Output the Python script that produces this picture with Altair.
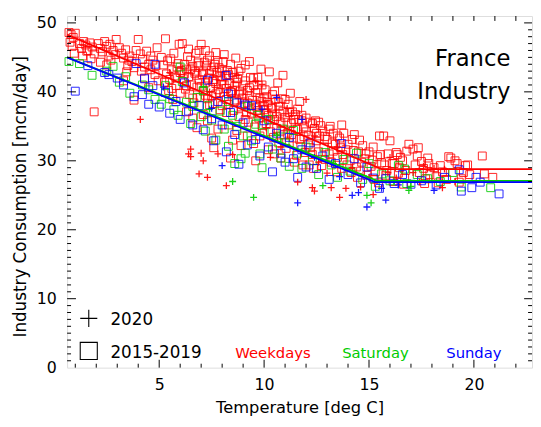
import altair as alt
import pandas as pd

X_DOMAIN = [0.61, 22.77]
Y_DOMAIN = [0, 51]
W, H = 472, 357

# Weekdays, 2015-2019 (squares)
wd_sq = [
    (0.7, 48.6), (0.8, 48.3), (0.9, 47.9), (1.0, 48.5), (0.75, 47.2), (0.85, 46.6), (0.95, 45.6),
    (1.2, 47.0), (1.3, 46.3), (1.4, 47.3), (1.5, 46.8), (1.6, 46.0), (1.7, 47.1), (1.8, 46.5),
    (1.9, 45.5), (1.35, 45.2), (1.55, 45.9), (1.9, 37.1), (1.75, 44.8),
    (2.1, 47.0), (2.2, 46.3), (2.3, 45.8), (2.4, 47.3), (2.5, 46.6), (2.6, 45.2), (2.7, 44.6),
    (2.8, 46.0), (2.9, 45.4), (2.2, 44.3), (2.5, 43.9), (2.95, 47.6), (2.65, 46.9),
    (3.1, 46.4), (3.2, 45.6), (3.3, 44.9), (3.4, 46.1), (3.5, 43.8), (3.6, 45.2), (3.7, 44.4),
    (3.8, 43.5), (3.9, 46.0), (3.3, 41.6), (3.8, 38.8), (4.0, 47.6), (3.55, 44.6), (3.45, 42.9),
    (4.1, 45.5), (4.2, 44.7), (4.3, 43.6), (4.4, 45.9), (4.5, 44.0), (4.6, 43.2), (4.7, 44.6),
    (4.8, 42.5), (4.9, 46.4), (4.3, 42.0), (4.6, 45.2), (4.85, 43.8), (4.15, 43.0), (4.95, 41.6),
    (4.5, 40.6),
    (5.1, 45.0), (5.2, 43.9), (5.3, 47.7), (5.35, 42.6), (5.4, 44.5), (5.5, 41.8), (5.6, 43.2),
    (5.7, 45.6), (5.75, 42.3), (5.8, 40.9), (5.9, 44.1), (6.0, 42.8), (5.45, 40.2), (5.65, 38.9),
    (5.95, 46.9), (5.25, 41.4), (5.85, 43.6), (5.55, 44.8),
    (6.1, 47.0), (6.15, 41.9), (6.2, 44.0), (6.25, 40.4), (6.3, 43.3), (6.35, 45.1), (6.4, 42.2),
    (6.45, 39.6), (6.5, 44.6), (6.55, 41.0), (6.6, 43.7), (6.65, 38.4), (6.7, 42.7), (6.75, 45.6),
    (6.8, 40.7), (6.85, 44.2), (6.9, 41.7), (6.95, 39.2), (6.3, 37.1), (6.6, 36.2), (6.8, 34.8),
    (6.4, 46.2), (6.7, 43.0), (6.05, 43.1), (6.9, 46.0),
    (7.0, 46.9), (7.05, 42.5), (7.1, 40.1), (7.15, 44.3), (7.2, 41.3), (7.25, 43.8), (7.3, 39.0),
    (7.35, 42.0), (7.4, 45.2), (7.45, 40.6), (7.5, 43.1), (7.55, 38.3), (7.6, 41.8), (7.65, 44.0),
    (7.7, 39.7), (7.75, 42.8), (7.8, 40.3), (7.85, 43.5), (7.9, 37.4), (7.95, 41.1), (7.3, 35.8),
    (7.6, 31.9), (7.5, 33.3), (7.8, 34.6), (7.1, 36.7), (7.7, 45.7), (7.2, 46.0), (7.4, 38.1),
    (7.9, 42.2), (7.55, 41.5),
    (8.0, 41.6), (8.05, 44.4), (8.1, 39.3), (8.15, 42.3), (8.2, 40.5), (8.25, 43.1), (8.3, 38.2),
    (8.35, 41.2), (8.4, 30.4), (8.45, 39.9), (8.5, 42.8), (8.55, 37.3), (8.6, 40.8), (8.65, 44.9),
    (8.7, 38.8), (8.75, 41.9), (8.8, 36.4), (8.85, 40.1), (8.9, 43.4), (8.95, 39.1), (8.1, 45.4),
    (8.3, 35.2), (8.5, 33.0), (8.7, 34.4), (8.9, 32.2), (8.2, 37.0), (8.6, 42.1), (8.4, 40.0),
    (8.8, 39.6), (8.0, 38.0),
    (9.0, 41.0), (9.05, 38.3), (9.1, 43.9), (9.15, 37.0), (9.2, 40.2), (9.25, 35.6), (9.3, 39.4),
    (9.35, 42.1), (9.4, 36.9), (9.45, 38.8), (9.5, 40.9), (9.55, 34.9), (9.6, 30.0), (9.65, 37.8),
    (9.7, 42.1), (9.75, 36.2), (9.8, 39.1), (9.85, 43.3), (9.9, 35.1), (9.95, 38.0), (9.2, 33.6),
    (9.5, 32.5), (9.8, 33.6), (9.3, 44.4), (9.6, 39.9), (9.9, 41.0), (9.1, 36.0), (9.7, 37.3),
    (10.0, 37.4), (10.05, 40.3), (10.1, 35.3), (10.15, 38.5), (10.2, 36.6), (10.25, 42.9),
    (10.3, 34.2), (10.35, 37.6), (10.4, 39.6), (10.45, 33.4), (10.5, 36.0), (10.55, 38.9),
    (10.6, 34.7), (10.65, 41.3), (10.7, 32.6), (10.75, 36.9), (10.8, 35.5), (10.85, 39.0),
    (10.9, 42.4), (10.95, 33.8), (10.2, 31.6), (10.5, 31.0), (10.8, 30.4), (10.4, 36.8),
    (10.7, 37.9), (10.1, 39.3),
    (11.0, 36.3), (11.1, 34.0), (11.15, 38.2), (11.2, 32.6), (11.3, 35.4), (11.35, 37.1),
    (11.4, 33.3), (11.5, 36.7), (11.55, 30.8), (11.6, 34.6), (11.7, 38.6), (11.75, 32.1),
    (11.8, 35.8), (11.9, 33.5), (11.95, 31.2), (11.25, 39.8), (11.45, 29.8), (11.65, 36.0),
    (11.85, 29.4), (11.05, 31.8),
    (12.0, 34.2), (12.1, 32.3), (12.2, 35.6), (12.3, 30.9), (12.4, 34.7), (12.5, 32.9),
    (12.6, 31.3), (12.7, 35.1), (12.8, 34.3), (12.9, 30.2), (12.15, 29.4), (12.45, 35.8),
    (12.65, 33.6), (12.85, 32.0), (12.35, 28.9), (12.75, 29.3),
    (13.0, 33.1), (13.1, 31.0), (13.2, 29.8), (13.3, 34.0), (13.4, 32.4), (13.5, 30.5),
    (13.6, 33.3), (13.7, 28.9), (13.8, 34.0), (13.9, 31.6), (13.15, 35.0), (13.45, 28.4),
    (13.75, 30.9), (13.25, 32.6), (13.65, 31.9), (13.95, 29.4),
    (14.0, 32.4), (14.1, 30.0), (14.2, 33.1), (14.3, 33.8), (14.4, 29.1), (14.5, 31.3),
    (14.6, 28.5), (14.7, 32.2), (14.8, 30.3), (14.9, 27.9), (14.25, 31.5), (14.55, 33.0),
    (14.85, 31.0), (14.15, 28.3), (14.65, 29.8), (14.45, 27.6),
    (15.0, 31.3), (15.1, 29.2), (15.2, 32.0), (15.3, 28.4), (15.4, 30.6), (15.5, 33.6),
    (15.6, 29.7), (15.7, 33.6), (15.8, 27.9), (15.9, 31.0), (15.25, 27.3), (15.55, 30.9),
    (15.85, 28.6), (15.15, 30.1), (15.45, 26.8), (15.75, 29.4),
    (16.0, 32.9), (16.1, 29.6), (16.2, 29.6), (16.3, 31.2), (16.4, 28.2), (16.5, 30.5),
    (16.6, 30.0), (16.7, 27.5), (16.8, 31.4), (16.9, 32.4), (16.15, 27.0), (16.45, 29.0),
    (16.75, 28.6), (16.35, 30.9), (16.65, 26.6),
    (17.1, 31.7), (17.2, 29.4), (17.3, 30.7), (17.4, 28.3), (17.5, 29.9), (17.6, 28.9),
    (17.7, 27.4), (17.8, 30.4), (17.9, 28.0), (17.35, 31.9), (17.65, 26.7), (17.85, 29.6),
    (18.1, 29.0), (18.2, 27.7), (18.4, 29.3), (18.5, 28.4), (18.6, 28.3), (18.8, 30.6),
    (18.9, 30.4), (18.3, 26.8), (18.7, 27.3),
    (19.1, 30.0), (19.2, 29.6), (19.3, 26.9), (19.5, 28.3), (19.6, 29.3), (19.7, 29.4),
    (19.8, 28.0), (19.4, 27.4),
    (20.4, 30.7), (20.5, 28.1), (20.9, 27.6),
    (5.6, 40.5), (5.8, 42.0), (6.0, 39.8), (6.2, 42.6), (6.3, 40.9), (6.5, 43.2), (6.6, 39.1),
    (6.8, 42.4), (6.9, 43.8), (7.0, 40.8), (7.1, 42.9), (7.2, 39.5), (7.3, 44.6), (7.4, 42.6),
    (7.5, 39.4), (7.6, 43.6), (7.7, 41.2), (7.8, 44.3), (7.9, 39.9), (8.0, 43.0), (8.1, 41.0),
    (8.2, 38.9), (8.3, 42.5), (8.4, 44.0), (8.5, 40.2), (8.6, 38.6), (8.7, 41.4), (8.8, 43.0),
    (8.9, 37.8), (9.0, 39.7), (9.1, 41.6), (9.2, 38.4), (9.3, 40.6), (9.4, 37.5), (9.5, 42.0),
    (9.6, 38.2), (9.7, 40.3), (9.8, 36.8), (9.9, 38.6), (10.0, 39.0), (10.1, 36.9), (10.2, 38.1),
    (10.3, 35.9), (10.4, 37.8), (10.5, 40.1), (10.6, 36.4), (10.7, 38.5), (10.8, 34.3),
    (10.9, 37.2), (11.0, 38.9), (11.1, 35.6), (11.2, 37.0), (11.3, 33.8), (11.4, 36.0),
    (11.5, 34.6), (11.6, 37.5), (11.7, 33.1), (11.8, 36.6), (11.9, 34.9), (12.0, 36.2),
    (12.1, 33.7), (12.2, 31.9), (12.3, 35.4), (12.5, 34.0), (12.6, 35.6), (12.9, 33.5),
    (13.1, 34.6), (13.3, 31.4), (13.5, 33.6), (13.7, 35.2),
]

# Saturday, 2015-2019 (squares)
sa_sq = [
    (0.7, 44.4), (1.2, 44.1), (1.8, 42.4), (2.5, 43.0), (2.8, 43.7), (3.1, 41.4), (3.4, 42.2),
    (3.6, 39.8), (4.2, 41.0), (4.5, 40.3), (4.8, 38.9), (5.1, 38.2), (5.3, 40.9), (5.5, 39.0),
    (5.7, 37.4), (5.9, 36.6), (6.1, 41.5), (6.3, 38.5), (6.5, 35.4), (6.6, 37.9), (6.8, 39.2),
    (7.0, 36.4), (7.2, 34.3), (7.3, 38.0), (7.5, 35.9), (7.7, 33.0), (7.9, 37.2), (8.1, 34.6),
    (8.3, 32.1), (8.5, 36.6), (8.6, 29.6), (8.7, 35.0), (8.9, 30.3), (9.0, 33.6), (9.1, 31.1),
    (9.2, 37.9), (9.4, 32.9), (9.6, 35.3), (9.8, 31.0), (9.9, 29.0), (10.0, 34.1), (10.2, 36.0),
    (10.4, 31.7), (10.6, 33.3), (10.8, 30.4), (11.0, 32.6), (11.2, 29.2), (11.4, 34.4),
    (11.6, 31.1), (11.8, 28.9), (12.0, 32.0), (12.3, 30.0), (12.6, 28.0), (12.9, 31.2),
    (13.2, 29.4), (13.5, 27.6), (13.8, 30.2), (14.1, 28.5), (14.4, 31.1), (14.7, 27.3),
    (15.0, 29.6), (15.3, 26.3), (15.6, 28.1), (16.0, 27.1), (16.4, 29.3), (16.7, 28.8),
    (16.8, 26.7), (17.3, 28.0), (17.8, 27.4), (18.4, 27.0), (19.0, 28.3), (19.4, 26.2),
    (20.8, 26.1), (6.0, 43.6), (7.1, 40.2), (8.3, 38.6), (9.7, 36.6), (10.9, 34.6),
]

# Sunday, 2015-2019 (squares)
su_sq = [
    (1.0, 40.1), (1.6, 43.8), (2.4, 42.8), (2.6, 42.5), (3.0, 42.0), (3.3, 41.0), (3.8, 39.3),
    (3.9, 44.1), (4.2, 39.6), (4.3, 41.9), (4.5, 38.2), (4.7, 40.9), (4.8, 44.0), (5.0, 37.8),
    (5.3, 39.9), (5.5, 36.9), (5.8, 38.6), (6.0, 36.0), (6.2, 41.3), (6.4, 37.2), (6.6, 35.2),
    (6.9, 38.0), (7.1, 34.5), (7.3, 41.7), (7.5, 36.1), (7.6, 32.9), (7.8, 38.6), (8.0, 35.2),
    (8.2, 42.4), (8.3, 39.7), (8.2, 31.3), (8.4, 37.0), (8.6, 33.8), (8.7, 38.4), (8.8, 29.5),
    (9.0, 35.5), (9.1, 38.1), (9.2, 32.3), (9.4, 38.0), (9.6, 33.1), (9.8, 30.7), (10.0, 35.8),
    (10.2, 32.0), (10.4, 28.4), (10.6, 34.0), (10.8, 31.1), (11.0, 29.8), (11.2, 33.4),
    (11.4, 30.3), (11.6, 27.6), (11.8, 31.6), (12.0, 29.1), (12.2, 32.6), (12.5, 28.9),
    (12.8, 30.7), (13.1, 27.3), (13.4, 29.6), (13.7, 32.5), (14.0, 28.0), (14.3, 30.3),
    (14.6, 26.8), (14.9, 29.1), (15.2, 27.5), (15.5, 26.0), (15.8, 27.4), (16.2, 26.7),
    (16.6, 28.0), (17.0, 26.6), (17.5, 27.1), (18.2, 26.5), (18.6, 27.6), (19.3, 28.7),
    (19.4, 25.6), (19.9, 26.1), (20.1, 27.6), (20.3, 26.9), (21.2, 25.2),
]

# 2020 (pluses)
wd_pl = [
    (4.1, 36.0), (6.4, 31.0), (6.5, 31.7), (6.5, 30.6), (7.0, 31.1), (7.1, 30.0), (6.9, 28.1),
    (7.3, 27.6), (7.8, 31.0), (8.2, 26.4), (8.5, 30.9), (8.7, 42.4), (9.6, 41.6), (9.9, 41.1),
    (11.1, 37.6), (11.3, 36.9), (12.0, 38.9), (11.6, 26.9), (12.3, 26.1), (12.4, 25.6),
    (13.2, 26.1), (13.6, 24.7), (13.9, 26.0), (15.2, 25.1), (14.6, 26.2), (10.3, 30.5),
    (10.8, 32.0), (12.6, 29.8), (13.0, 28.2), (14.2, 29.0), (15.0, 27.6), (15.9, 28.3),
    (16.3, 27.5), (17.1, 28.3), (18.1, 28.9), (18.6, 28.8), (19.1, 27.0), (12.4, 33.6),
    (13.5, 32.0), (16.0, 30.5), (17.6, 29.2), (5.5, 42.8), (7.4, 40.0), (10.1, 34.8),
    (18.5, 26.1), (17.4, 26.9),
]
sa_pl = [
    (8.5, 27.0), (9.5, 24.7), (12.8, 26.4), (14.9, 25.0), (15.1, 23.9), (16.9, 25.7),
    (17.0, 26.3), (7.1, 40.7), (10.6, 33.7), (13.3, 29.6), (7.4, 37.5), (16.2, 26.9),
]
su_pl = [
    (5.2, 40.7), (8.0, 29.3), (11.6, 23.9), (14.2, 25.0), (14.5, 25.4), (14.9, 23.3),
    (15.6, 26.0), (11.8, 36.0), (9.9, 37.5), (12.4, 30.5), (13.6, 27.7), (16.4, 26.5),
    (18.1, 25.7), (15.8, 24.3), (7.5, 37.6), (10.6, 39.2),
]

# fitted piecewise-linear curves
fit_wd = [(0.61, 48.3), (15.6, 28.8), (22.77, 28.8)]
fit_sa = [(0.61, 45.0), (15.4, 27.1), (22.77, 27.1)]
fit_su = [(0.61, 45.0), (15.3, 26.9), (22.77, 26.9)]

days = ["Weekdays", "Saturday", "Sunday"]
day_colors = ["#ff0000", "#00cc00", "#0000ff"]
periods = ["2015-2019", "2020"]
title_lines = ["France", "Industry"]
x_tick_values = [5, 10, 15, 20]
y_tick_values = [0, 10, 20, 30, 40, 50]

PLUS = "M-1,0L1,0M0,-1L0,1"
FONT = "DejaVu Sans"


def frame(groups):
    rows = []
    for day, pts in groups:
        for i, (x, y) in enumerate(pts):
            rows.append({"x": x, "y": y, "day": day, "i": i})
    return pd.DataFrame(rows)


sq_df = frame(zip(days, [wd_sq, sa_sq, su_sq]))
pl_df = frame(zip(days, [wd_pl, sa_pl, su_pl]))
fit_df = frame(zip(days, [fit_wd, fit_sa, fit_su]))

xs = alt.Scale(domain=X_DOMAIN, nice=False, zero=False)
ys = alt.Scale(domain=Y_DOMAIN, nice=False, zero=False)
cs = alt.Scale(domain=days, range=day_colors)

x_axis = alt.Axis(values=x_tick_values, ticks=False, domain=False, grid=False,
                  labelFont=FONT, titleFont=FONT, labelColor="black", titleColor="black",
                  labelFontSize=16, labelPadding=9, title="Temperature [deg C]",
                  titleFontSize=16.5, titleFontWeight="normal", titleX=W / 2, titleY=41,
                  titleAlign="center", titleBaseline="middle")
y_axis = alt.Axis(values=y_tick_values, ticks=False, domain=False, grid=False,
                  labelFont=FONT, titleFont=FONT, labelColor="black", titleColor="black",
                  labelFontSize=16, labelPadding=11, title="Industry Consumption [mcm/day]",
                  titleFontSize=17, titleFontWeight="normal", titleX=-47, titleY=183,
                  titleAlign="center", titleBaseline="middle", titleAngle=270)

X = alt.X("x:Q", scale=xs, axis=x_axis)
Y = alt.Y("y:Q", scale=ys, axis=y_axis)

squares = alt.Chart(sq_df).mark_point(shape="square", size=64, filled=False,
                                      strokeWidth=1, opacity=0.85).encode(
    x=X, y=Y, color=alt.Color("day:N", scale=cs, legend=None),
)
pluses = alt.Chart(pl_df).mark_point(shape=PLUS, size=49, filled=False,
                                     strokeWidth=1.3, opacity=0.9).encode(
    x=X, y=Y, color=alt.Color("day:N", scale=cs, legend=None),
)
lines = alt.Chart(fit_df).mark_line(strokeWidth=1.8).encode(
    x=X, y=Y, color=alt.Color("day:N", scale=cs, legend=None), order="i:Q",
)

# inward ticks on all four sides
x_minor = [v for v in range(1, 23) if v % 5]
y_minor = [v for v in range(1, 51) if v % 10]


def xticks(vals, y0, y1):
    return alt.Chart(pd.DataFrame({"x": vals})).mark_rule(color="black", strokeWidth=1).encode(
        x=X, y=alt.value(y0), y2=alt.value(y1))


def yticks(vals, x0, x1):
    return alt.Chart(pd.DataFrame({"y": vals})).mark_rule(color="black", strokeWidth=1).encode(
        y=Y, x=alt.value(x0), x2=alt.value(x1))


tick_layers = [
    xticks(x_minor, H, H - 4), xticks(x_tick_values, H, H - 8),
    xticks(x_minor, 0, 5), xticks(x_tick_values, 0, 5),
    yticks(y_minor, 0, 4), yticks(y_tick_values[1:], 0, 9),
    yticks(y_minor, W, W - 4), yticks(y_tick_values[1:], W, W - 8),
]


def label(text, x, y, size, color="black", align="left", baseline="alphabetic"):
    return alt.Chart(pd.DataFrame({"t": [text]})).mark_text(
        font=FONT, fontSize=size, color=color, align=align, baseline=baseline).encode(
        text="t:N", x=alt.value(x), y=alt.value(y))


def symbol(shape, x, y):
    return alt.Chart(pd.DataFrame({"t": [shape]})).mark_point(
        shape=shape, size=300, filled=False, color="black", strokeWidth=1.1, opacity=1).encode(
        x=alt.value(x), y=alt.value(y))


texts = [
    label(title_lines[0], 450, 51, 23, align="right"),
    label(title_lines[1], 450, 84, 23, align="right"),
    symbol(PLUS, 22, 307),
    symbol("square", 22, 340),
    label(periods[1], 44, 314, 17),
    label(periods[0], 44, 347, 17),
    label(days[0], 209, 347, 15, color=day_colors[0], align="center"),
    label(days[1], 313, 347, 15, color=day_colors[1], align="center"),
    label(days[2], 413, 347, 15, color=day_colors[2], align="center"),
]

chart = alt.layer(squares, pluses, lines, *tick_layers, *texts).properties(
    width=W, height=H,
    autosize=alt.AutoSizeParams(type="none"),
    padding={"left": 60, "top": 5, "right": 1, "bottom": 49},
).configure_view(stroke="black", strokeWidth=1.5).configure_axis(
    labelFont=FONT, titleFont=FONT, labelColor="black", titleColor="black"
).configure(background="white")

chart.save("out.html", embed_options={"renderer": "svg", "actions": False})
